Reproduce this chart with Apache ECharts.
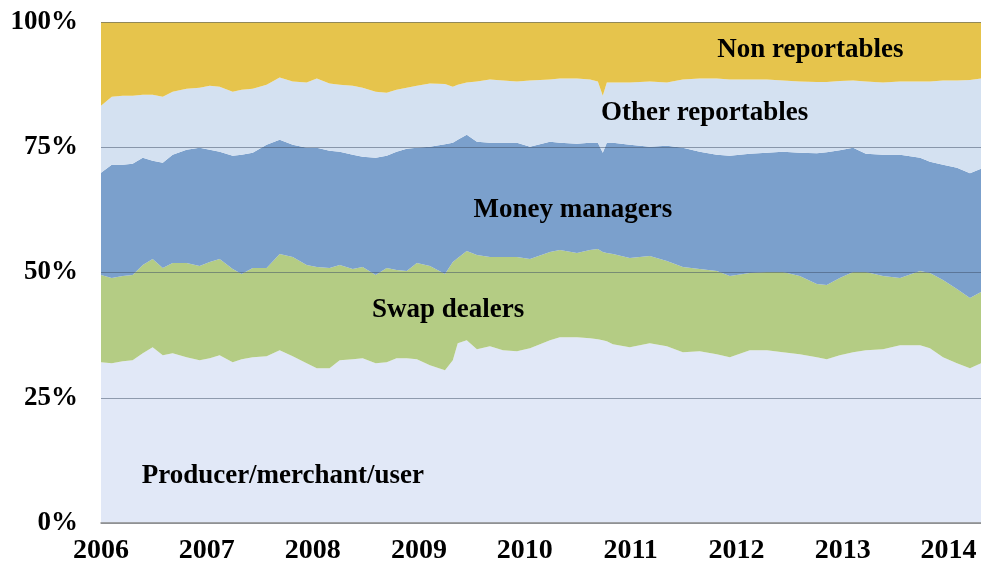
<!DOCTYPE html>
<html>
<head>
<meta charset="utf-8">
<script src="https://cdn.jsdelivr.net/npm/echarts@6/dist/echarts.min.js"></script>
<style>
  html, body { margin: 0; padding: 0; background: #fff; }
  #main { width: 981px; height: 565px; }
</style>
</head>
<body>
<div id="main"></div>
<script>
// dates of the readings
const dates = [
  '2006-01-01', '2006-02-07', '2006-03-17', '2006-04-20', '2006-05-25', '2006-06-28', '2006-08-02', '2006-09-05', '2006-10-23', '2006-12-07',
  '2007-01-11', '2007-02-14', '2007-03-31', '2007-05-01', '2007-06-08', '2007-07-26', '2007-09-09', '2007-10-24', '2007-12-11',
  '2008-01-15', '2008-02-28', '2008-04-03', '2008-05-18', '2008-06-21', '2008-08-05', '2008-09-12', '2008-10-16', '2008-11-20', '2008-12-25',
  '2009-02-08', '2009-04-01', '2009-04-28', '2009-05-15', '2009-06-15', '2009-07-20', '2009-09-03', '2009-10-18', '2009-12-05',
  '2010-01-19', '2010-03-29', '2010-05-02', '2010-06-30', '2010-08-14', '2010-09-10', '2010-09-27', '2010-10-11', '2010-11-01', '2010-12-29',
  '2011-03-08', '2011-05-06', '2011-06-30', '2011-08-27', '2011-10-25', '2011-12-09',
  '2012-02-16', '2012-04-15', '2012-06-09', '2012-08-06', '2012-10-04', '2012-11-07', '2012-12-22',
  '2013-02-06', '2013-03-22', '2013-05-20', '2013-07-18', '2013-09-25', '2013-10-29', '2013-12-13',
  '2014-01-30', '2014-03-16', '2014-04-23'
]

// shares of open interest, %
const producer = [
  32.1, 31.9, 32.3, 32.5, 33.9, 35.1, 33.5, 33.9, 33.1, 32.5,
  32.9, 33.5, 32.1, 32.7, 33.1, 33.3, 34.5, 33.3, 31.9,
  30.9, 30.9, 32.5, 32.7, 32.9, 31.9, 32.1, 32.9, 32.9, 32.7,
  31.5, 30.5, 32.5, 35.9, 36.5, 34.7, 35.3, 34.5, 34.3,
  34.9, 36.5, 37.1, 37.1, 36.9, 36.7, 36.5, 36.3, 35.7, 35.1,
  35.9, 35.3, 34.1, 34.3, 33.7, 33.1,
  34.5, 34.5, 34.1, 33.7, 33.1, 32.7, 33.5,
  34.1, 34.5, 34.7, 35.5, 35.5, 34.9, 33.1,
  31.9, 30.9, 31.9
]
const swapDealers = [
  17.4, 17.0, 17.0, 17.0, 17.6, 17.6, 17.4, 18.0, 18.8, 18.8,
  19.2, 19.2, 18.6, 17.0, 17.8, 17.6, 19.2, 19.8, 19.6,
  20.2, 20.0, 19.0, 18.0, 18.2, 17.6, 18.8, 17.6, 17.4, 19.2,
  19.8, 19.2, 19.6, 17.0, 17.8, 18.8, 17.8, 18.6, 18.8,
  17.8, 17.6, 17.4, 16.8, 17.6, 18.0, 17.6, 17.6, 18.0, 17.8,
  17.4, 17.0, 17.0, 16.4, 16.6, 16.2,
  15.4, 15.6, 16.0, 15.6, 14.6, 14.8, 15.4,
  16.0, 15.6, 14.6, 13.4, 14.8, 15.0, 15.4,
  14.8, 14.0, 14.2
]
const moneyManagers = [
  20.4, 22.6, 22.2, 22.2, 21.4, 19.6, 21.0, 21.6, 22.6, 23.6,
  22.4, 21.4, 22.6, 23.8, 23.0, 24.6, 22.8, 22.4, 23.4,
  23.8, 23.4, 22.6, 22.8, 22.0, 23.4, 22.4, 23.6, 24.4, 23.0,
  23.8, 25.9, 23.8, 23.6, 23.2, 22.6, 22.8, 22.8, 22.8,
  22.4, 22.0, 21.4, 21.8, 21.4, 21.2, 19.8, 22.0, 22.2, 22.6,
  21.8, 23.0, 23.8, 23.4, 23.2, 24.0,
  23.8, 23.8, 24.0, 24.6, 26.1, 26.5, 25.5,
  24.8, 23.6, 24.2, 24.6, 22.6, 22.2, 23.0,
  24.2, 24.9, 24.6
]
const otherReportables = [
  13.4, 13.6, 13.8, 13.6, 12.6, 13.2, 13.2, 12.6, 12.2, 12.0,
  12.8, 13.0, 12.8, 13.0, 12.8, 12.0, 12.4, 12.6, 13.0,
  13.8, 13.4, 13.4, 13.8, 13.8, 13.2, 12.6, 12.4, 12.2, 12.4,
  12.6, 12.0, 11.2, 11.0, 10.4, 12.0, 12.6, 12.4, 12.2,
  13.2, 12.4, 12.8, 13.0, 12.6, 12.2, 11.4, 12.0, 12.0, 12.4,
  13.0, 12.6, 13.6, 14.6, 15.2, 15.2,
  14.8, 14.6, 14.2, 14.2, 14.2, 14.0, 13.8,
  13.4, 14.4, 14.4, 14.6, 15.2, 16.0, 16.8,
  17.4, 18.6, 18.0
]
const nonReportables = [
  16.8, 15.0, 14.8, 14.8, 14.6, 14.6, 15.0, 14.0, 13.4, 13.2,
  12.8, 13.0, 14.0, 13.6, 13.4, 12.6, 11.2, 12.0, 12.2,
  11.4, 12.4, 12.6, 12.8, 13.2, 14.0, 14.2, 13.6, 13.2, 12.8,
  12.4, 12.4, 13.0, 12.6, 12.2, 12.0, 11.6, 11.8, 12.0,
  11.8, 11.6, 11.4, 11.4, 11.6, 12.0, 14.8, 12.2, 12.2, 12.2,
  12.0, 12.2, 11.6, 11.4, 11.4, 11.6,
  11.6, 11.6, 11.8, 12.0, 12.0, 12.0, 11.8,
  11.8, 12.0, 12.2, 12.0, 12.0, 12.0, 11.8,
  11.8, 11.6, 11.4
]

const seriesNames = ['Producer/merchant/user', 'Swap dealers', 'Money managers', 'Other reportables', 'Non reportables']
const seriesValues = [producer, swapDealers, moneyManagers, otherReportables, nonReportables]
const seriesColors = ['#e1e8f7', '#b4cc84', '#7ba0cc', '#d4e1f1', '#e6c44c']

// where the in-chart names sit, [date, %]
const labelAt = [
  ['2007-09-20', 9.4],
  ['2009-04-12', 42.5],
  ['2010-06-16', 62.5],
  ['2011-09-13', 81.8],
  ['2012-09-12', 94.4]
]

const FONT = '"Liberation Serif", "Times New Roman", serif'
const YEAR_MS = 365 * 24 * 3600 * 1000

const myChart = echarts.init(document.getElementById('main'))

const option = {
  backgroundColor: '#fff',
  animation: false,
  grid: { left: 101, right: 0, top: 22, bottom: 42 },
  xAxis: {
    type: 'time',
    min: '2006-01-01',
    max: '2014-04-23',
    minInterval: YEAR_MS,
    maxInterval: YEAR_MS * 1.01,
    axisLine: { show: true, lineStyle: { color: '#8a8a8a', width: 1.5 } },
    axisTick: { show: false },
    splitLine: { show: false },
    axisLabel: {
      margin: 14,
      color: '#000',
      fontFamily: FONT,
      fontWeight: 'bold',
      fontSize: 28,
      showMaxLabel: false,
      hideOverlap: false,
      formatter: function (v) {
        const d = new Date(v)
        return (d.getMonth() === 0 && d.getDate() === 1) ? String(d.getFullYear()) : ''
      }
    },
    z: 5
  },
  yAxis: {
    type: 'value',
    min: 0,
    max: 100,
    interval: 25,
    axisLine: { show: false },
    axisTick: { show: false },
    splitLine: { show: true, lineStyle: { color: 'rgba(60,75,100,0.5)', width: 1 } },
    axisLabel: {
      margin: 23,
      color: '#000',
      fontFamily: FONT,
      fontWeight: 'bold',
      fontSize: 27,
      formatter: '{value}%'
    },
    z: 5
  },
  series: seriesNames.map((name, i) => ({
    name: name,
    type: 'line',
    stack: 'Total',
    showSymbol: false,
    symbol: 'none',
    lineStyle: { width: 0 },
    areaStyle: { color: seriesColors[i], opacity: 1 },
    z: 2,
    data: dates.map((d, k) => [d, seriesValues[i][k]])
  }))
}
myChart.setOption(option)

// series names written inside their bands
myChart.setOption({
  graphic: seriesNames.map((name, i) => {
    const p = myChart.convertToPixel({ gridIndex: 0 }, labelAt[i])
    return {
      type: 'text',
      x: p[0],
      y: p[1],
      z: 10,
      style: {
        text: name,
        font: 'bold 27px ' + FONT,
        fill: '#000',
        align: 'center',
        verticalAlign: 'middle',
        textAlign: 'center',
        textVerticalAlign: 'middle'
      }
    }
  })
})
</script>
</body>
</html>
